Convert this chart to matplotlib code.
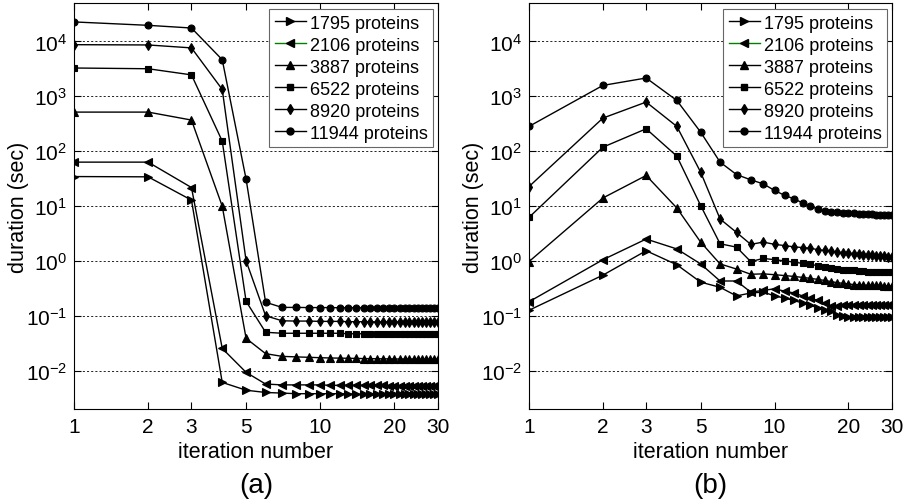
import matplotlib
matplotlib.use("Agg")
import matplotlib.pyplot as plt
from matplotlib.lines import Line2D
from matplotlib.ticker import FixedLocator, FixedFormatter, NullLocator

plt.rcParams['font.family'] = ['Liberation Sans', 'DejaVu Sans']
plt.rcParams['mathtext.fontset'] = 'custom'
plt.rcParams['mathtext.rm'] = 'Liberation Sans'
plt.rcParams['mathtext.it'] = 'Liberation Sans'

iterations = list(range(1, 31))
labels = ['1795 proteins', '2106 proteins', '3887 proteins', '6522 proteins', '8920 proteins', '11944 proteins']
x_ticks = [1, 2, 3, 5, 10, 20, 30]

# (a)
a_1795 = [34.4, 34.0, 12.8, 0.0061, 0.0044, 0.0040, 0.0039, 0.0038, 0.0038, 0.0038, 0.0038, 0.0038, 0.0038, 0.0037, 0.0037,
          0.0037, 0.0037, 0.0037, 0.0037, 0.0037, 0.0037, 0.0037, 0.0037, 0.0037, 0.0037, 0.0037, 0.0037, 0.0037, 0.0037, 0.0037]
a_2106 = [63, 63, 21.7, 0.0254, 0.0093, 0.0057, 0.0055, 0.0055, 0.0055, 0.0055, 0.0054, 0.0054, 0.0054, 0.0054, 0.0054,
          0.0054, 0.0054, 0.0054, 0.0053, 0.0053, 0.0053, 0.0053, 0.0053, 0.0053, 0.0053, 0.0053, 0.0053, 0.0053, 0.0053, 0.0053]
a_3887 = [514, 514, 368, 9.9, 0.0387, 0.0204, 0.0182, 0.0178, 0.0175, 0.0172, 0.0170, 0.0169, 0.0168, 0.0167, 0.0166,
          0.0165, 0.0165, 0.0164, 0.0164, 0.0163, 0.0163, 0.0163, 0.0163, 0.0162, 0.0162, 0.0162, 0.0162, 0.0162, 0.0162, 0.0162]
a_6522 = [3270, 3170, 2450, 152, 0.183, 0.050, 0.048, 0.048, 0.048, 0.048, 0.048, 0.048, 0.047, 0.047, 0.047,
          0.047, 0.047, 0.047, 0.047, 0.047, 0.047, 0.047, 0.047, 0.047, 0.047, 0.047, 0.047, 0.047, 0.047, 0.047]
a_8920 = [8700, 8600, 7600, 1330, 1.0, 0.10, 0.081, 0.080, 0.080, 0.079, 0.079, 0.079, 0.078, 0.078, 0.078,
          0.078, 0.077, 0.077, 0.077, 0.077, 0.077, 0.077, 0.076, 0.076, 0.076, 0.076, 0.076, 0.076, 0.076, 0.076]
a_11944 = [22600, 19600, 17500, 4630, 30.8, 0.176, 0.142, 0.142, 0.141, 0.141, 0.141, 0.140, 0.140, 0.140, 0.140,
           0.140, 0.140, 0.140, 0.139, 0.139, 0.139, 0.139, 0.139, 0.139, 0.139, 0.139, 0.139, 0.139, 0.139, 0.139]

# (b)
b_1795 = [0.126, 0.55, 1.53, 0.85, 0.41, 0.33, 0.23, 0.26, 0.27, 0.23, 0.21, 0.19, 0.17, 0.155, 0.14,
          0.13, 0.12, 0.105, 0.097, 0.095, 0.095, 0.095, 0.095, 0.095, 0.095, 0.095, 0.095, 0.095, 0.095, 0.095]
b_2106 = [0.18, 1.05, 2.5, 1.65, 0.88, 0.43, 0.43, 0.27, 0.29, 0.31, 0.28, 0.26, 0.23, 0.21, 0.19,
          0.17, 0.15, 0.15, 0.16, 0.16, 0.16, 0.16, 0.16, 0.16, 0.16, 0.16, 0.16, 0.16, 0.16, 0.16]
b_3887 = [0.97, 14, 36, 9.2, 2.2, 0.88, 0.71, 0.57, 0.58, 0.56, 0.54, 0.52, 0.50, 0.48, 0.46,
          0.44, 0.42, 0.40, 0.39, 0.38, 0.37, 0.37, 0.36, 0.36, 0.36, 0.36, 0.36, 0.35, 0.35, 0.35]
b_6522 = [6.2, 118, 255, 81, 10.2, 2.05, 1.78, 0.97, 1.11, 1.05, 1.0, 0.95, 0.90, 0.86, 0.82,
          0.78, 0.74, 0.71, 0.69, 0.68, 0.67, 0.66, 0.65, 0.64, 0.64, 0.63, 0.63, 0.62, 0.62, 0.62]
b_8920 = [22.6, 400, 783, 282, 41.4, 5.8, 3.3, 2.0, 2.2, 2.0, 1.9, 1.8, 1.75, 1.7, 1.6,
          1.55, 1.5, 1.45, 1.4, 1.38, 1.35, 1.32, 1.3, 1.28, 1.26, 1.24, 1.22, 1.21, 1.2, 1.19]
b_11944 = [282, 1575, 2150, 838, 222, 63, 37.4, 30, 25.3, 19.2, 15.6, 13.5, 11.4, 9.9, 8.8,
           8.0, 7.8, 7.7, 7.6, 7.5, 7.4, 7.3, 7.2, 7.2, 7.1, 7.0, 7.0, 6.9, 6.9, 6.8]

series_a = [a_1795, a_2106, a_3887, a_6522, a_8920, a_11944]
series_b = [b_1795, b_2106, b_3887, b_6522, b_8920, b_11944]
markers = ['>', '<', '^', 's', 'd', 'o']
msizes = [6, 6, 6, 5, 5.5, 5]

fig = plt.figure(figsize=(9.08, 5.02), dpi=100)
W, H = 908, 502
ax_a = fig.add_axes([74 / W, 1 - 410 / H, 363.7 / W, 406 / H])
ax_b = fig.add_axes([529 / W, 1 - 410 / H, 362.7 / W, 406 / H])

for ax, series, tag in [(ax_a, series_a, '(a)'), (ax_b, series_b, '(b)')]:
    for vals, m, ms in zip(series, markers, msizes):
        ax.plot(iterations, vals, color='black', lw=1.0, marker=m, ms=ms,
                mfc='black', mec='black', mew=0.8)
    ax.set_xscale('log')
    ax.set_yscale('log')
    ax.set_xlim(1, 30)
    ax.set_ylim(2e-3, 5e4)
    ax.xaxis.set_major_locator(FixedLocator(x_ticks))
    ax.xaxis.set_major_formatter(FixedFormatter([str(t) for t in x_ticks]))
    ax.xaxis.set_minor_locator(NullLocator())
    ax.yaxis.set_major_locator(FixedLocator([1e-2, 1e-1, 1, 10, 100, 1e3, 1e4]))
    ax.yaxis.set_minor_locator(NullLocator())
    ax.tick_params(axis='both', which='major', direction='in', top=True, right=True,
                   length=5, width=0.8, labelsize=15, color='black')
    ax.tick_params(axis='x', pad=6)
    ax.tick_params(axis='y', pad=5)
    ax.yaxis.grid(True, which='major', color='black', linestyle=(0, (2.5, 2.5)), lw=0.6)
    for s in ax.spines.values():
        s.set_linewidth(0.8)
    ax.set_xlabel('iteration number', fontsize=15.5, labelpad=3)
    ax.set_ylabel('duration (sec)', fontsize=15.5, labelpad=-2)

    handles = []
    for i, (m, ms) in enumerate(zip(markers, msizes)):
        lc = '#008000' if i == 1 else 'black'
        handles.append(Line2D([], [], color=lc, lw=1.0, marker=m, ms=ms, mfc='black', mec='black'))
    leg = ax.legend(handles, labels, loc='upper right', bbox_to_anchor=(0.988, 0.985),
                    borderaxespad=0, fontsize=13, frameon=True, fancybox=False,
                    handlelength=1.7, handletextpad=0.25, labelspacing=0.28,
                    borderpad=0.3)
    leg.get_frame().set_edgecolor('#666666')
    leg.get_frame().set_linewidth(0.8)
    leg.get_frame().set_alpha(1)
    pos = ax.get_position()
    fig.text((pos.x0 + pos.x1) / 2, 1 - 486 / H, tag, ha='center', va='center', fontsize=20)

fig.savefig('out.png', dpi=100)
